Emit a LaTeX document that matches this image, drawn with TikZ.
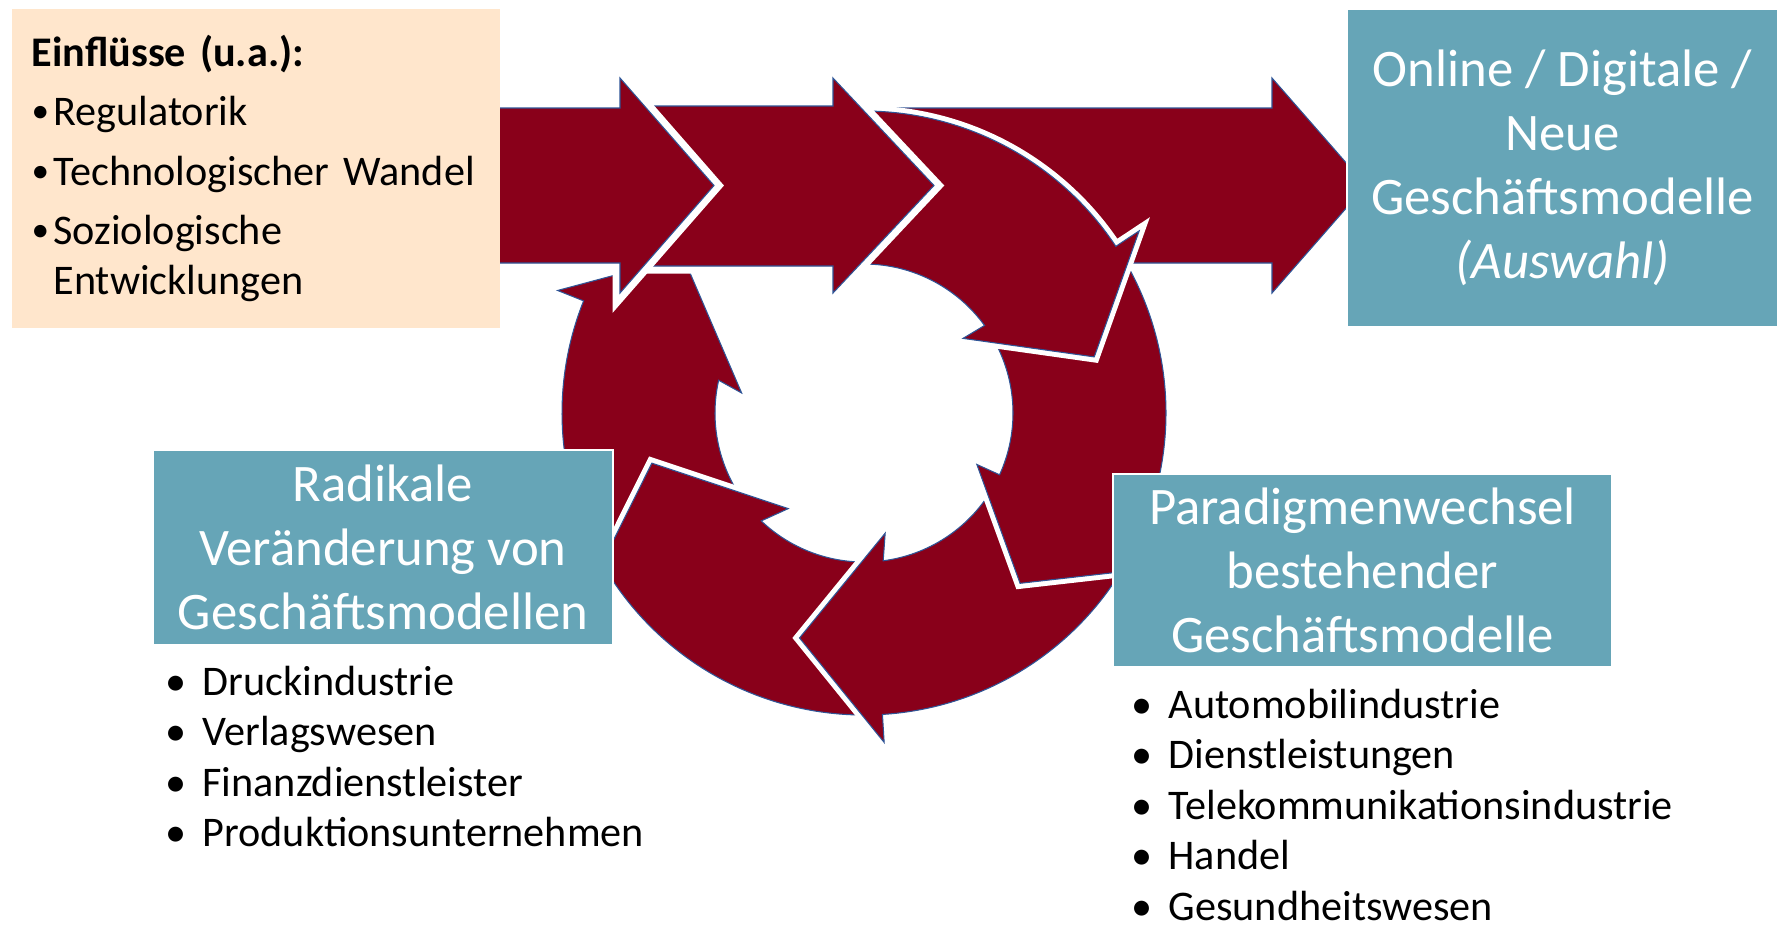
\documentclass[tikz,border=0pt]{standalone}
\usepackage{fontspec}
\setmainfont{Carlito}
\usepackage{xcolor}
\usepackage{tikz}

\definecolor{cyclered}{RGB}{137,0,26}
\definecolor{rimblue}{RGB}{47,85,151}
\definecolor{boxblue}{RGB}{102,165,183}
\definecolor{peach}{RGB}{255,230,204}

\newcommand{\blt}{\makebox[10.5pt][l]{\textbullet}}
\newcommand{\smallblt}{\makebox[6.2pt][l]{\raisebox{0.8pt}{\fontsize{10}{10}\selectfont\textbullet}}}

\begin{document}
\begin{tikzpicture}[x=0.01cm, y=-0.01cm,
  redarrow/.style={fill=cyclered, draw=rimblue, line width=0.3pt, preaction={draw=white, line width=0.15cm}},
  ringpart/.style={fill=cyclered, draw=rimblue, line width=0.3pt, preaction={draw=white, line width=0.11cm}},
  titlebox/.style={fill=boxblue, draw=white, line width=0.4pt, text=white, align=center, inner sep=0pt, font=\fontsize{15}{18.2}\selectfont},
  listtext/.style={anchor=base west, inner sep=0pt, text width=6cm, align=left, font=\fontsize{12}{14.4}\selectfont}
]
\useasboundingbox (0,0) rectangle (1778,929);

% long arrow towards the new business models
\path[redarrow] (845,108) -- (1272,108) -- (1272,78) -- (1366,185.5) -- (1272,293) -- (1272,263) -- (845,263) -- cycle;

% cycle of five curved arrows
\begin{scope}[shift={(864,413)}]
  \path[ringpart] (149.7:302) arc[start angle=149.7, end angle=201.8, radius=302]
    -- (201.8:330) -- (220.8:239) -- (189.3:124) -- (192.7:149)
    arc[start angle=192.7, end angle=146.1, radius=149] -- (164.7:218) -- cycle;
  \path[ringpart] (89:302) arc[start angle=89, end angle=147, radius=302]
    -- (147:330) -- (166.7:218) -- (128.4:122) -- (133.6:149)
    arc[start angle=133.6, end angle=88, radius=149] -- (104:234) -- cycle;
  \path[ringpart] (30.5:302) arc[start angle=30.5, end angle=86.5, radius=302]
    -- (86.5:330) -- (106:234) -- (80:122) -- (82.6:149)
    arc[start angle=82.6, end angle=31, radius=149] -- (45.5:231) -- cycle;
  \path[ringpart] (-30.7:302) arc[start angle=-30.7, end angle=28, radius=302]
    -- (28:330) -- (47.5:231) -- (24.5:124) -- (24.5:149)
    arc[start angle=24.5, end angle=-30.2, radius=149] -- (-15.7:237) -- cycle;
  \path[ringpart] (-98:302) arc[start angle=-98, end angle=-33.5, radius=302]
    -- (-33.5:330) -- (-13.7:237) -- (-37:124) -- (-36:149)
    arc[start angle=-36, end angle=-98, radius=149] -- (-77.3:231.7) -- cycle;
\end{scope}

% two chevrons coming from the influences
\path[redarrow] (625,106) -- (833,106) -- (833,78) -- (934,185.5) -- (833,293) -- (833,266) -- (625,266) -- (705,185.5) -- cycle;
\path[redarrow] (495,108) -- (620,108) -- (620,78) -- (714,185.5) -- (620,293) -- (620,263) -- (495,263) -- cycle;

\node[fill=peach, anchor=north west, minimum height=3.19cm, inner xsep=0.2cm, inner ysep=0pt, text width=4.48cm, align=left, font=\fontsize{12}{14.2}\selectfont] (einfl) at (11,8)
  {\textbf{Einflüsse (u.a.):}\\[2.7pt]
   \smallblt Regulatorik\\[2.7pt]
   \smallblt Technologischer Wandel\\[2.7pt]
   \smallblt Soziologische\\
   \hphantom{\smallblt}Entwicklungen};

\node[titlebox, minimum width=4.31cm, minimum height=3.18cm] (online) at (1562.5,168) {Online / Digitale /\\Neue\\Geschäftsmodelle\\\textit{(Auswahl)}};
\node[titlebox, minimum width=4.6cm, minimum height=1.95cm] (radikal) at (383,547.5) {Radikale\\Veränderung von\\Geschäftsmodellen};
\node[titlebox, minimum width=4.99cm, minimum height=1.93cm] (paradigma) at (1362.5,570.5) {Paradigmenwechsel\\bestehender\\Geschäftsmodelle};

\node[listtext] (radikalliste) at (165,695) {\blt Druckindustrie\\\blt Verlagswesen\\\blt Finanzdienstleister\\\blt Produktionsunternehmen};
\node[listtext] (paradigmaliste) at (1131,718) {\blt Automobilindustrie\\\blt Dienstleistungen\\\blt Telekommunikationsindustrie\\\blt Handel\\\blt Gesundheitswesen};
\end{tikzpicture}
\end{document}
